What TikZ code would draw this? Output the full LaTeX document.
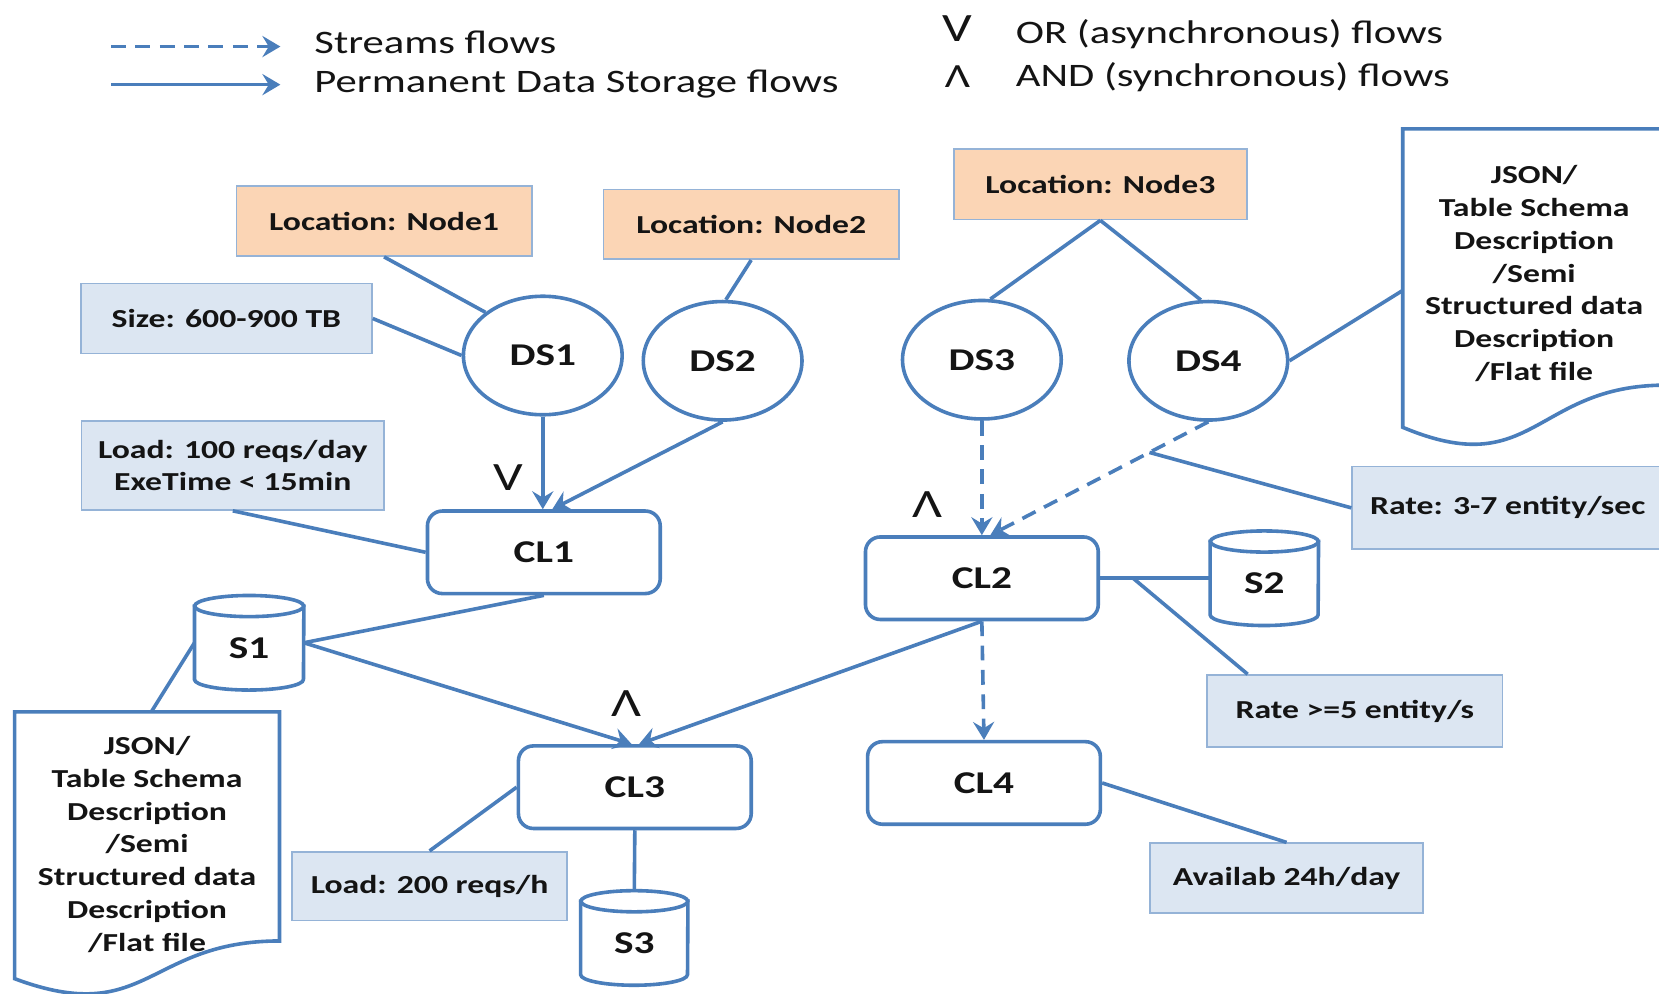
\documentclass[tikz,border=0pt]{standalone}
\usepackage{fontspec}
\setmainfont{Carlito}[FakeStretch=1.3]
\usetikzlibrary{arrows.meta,calc,shapes.geometric}
\definecolor{lineblue}{HTML}{4A7EBB}
\definecolor{boxfill}{HTML}{DCE6F2}
\definecolor{boxedge}{HTML}{95B3D7}
\definecolor{peach}{HTML}{FBD5B5}
\pgfdeclarelayer{bg}
\pgfsetlayers{bg,main}

% storage cylinder drawn round a rectangular node: name, x radius
\newcommand{\drawcyl}[2]{%
  \draw[conn, fill=white] ([yshift=-10pt]#1.north west) -- ([yshift=10pt]#1.south west)
    arc[start angle=180, end angle=360, x radius=#2pt, y radius=10pt]
    -- ([yshift=-10pt]#1.north east) -- cycle;
  \draw[conn, fill=white] ([yshift=-10pt]#1.north) ellipse[x radius=#2pt, y radius=10pt];
}
% document outline with a wavy bottom: name, full height
\newcommand{\drawdoc}[2]{%
  \draw[conn, fill=white] (#1.north west) -- (#1.north east)
    -- ([yshift=-0.802*#2pt]#1.north east)
    .. controls ([yshift=-0.802*#2pt]#1.north) and ([yshift=-1.107*#2pt]#1.north)
    .. ([yshift=-0.934*#2pt]#1.north west) -- cycle;
}

\begin{document}
\begin{tikzpicture}[x=1pt,y=-1pt,
  every node/.style={text=black!92},
  lbl/.style={font=\fontsize{24.5}{31}\selectfont\bfseries},
  big/.style={font=\fontsize{30}{36}\selectfont\bfseries},
  legendtext/.style={font=\fontsize{31}{36}\selectfont, inner sep=0pt, anchor=west},
  gate/.style={font=\fontsize{38}{40}\selectfont, inner sep=0pt},
  conn/.style={draw=lineblue, line width=3.4pt},
  flow/.style={conn, -{Stealth[length=17pt,width=20pt,inset=6pt]}},
  stream/.style={flow, dash pattern=on 14pt off 9pt},
  infobox/.style={lbl, draw=boxedge, line width=1.6pt, fill=boxfill, inner sep=0pt, align=center},
  locbox/.style={lbl, draw=boxedge, line width=1.6pt, fill=peach, inner sep=0pt,
    minimum width=279pt, minimum height=66pt},
  dsnode/.style={big, ellipse, conn, fill=white, minimum width=150pt, minimum height=112pt},
  clnode/.style={big, rectangle, rounded corners=14pt, conn, fill=white,
    minimum width=220pt, minimum height=78pt},
  cylbox/.style={big, rectangle, inner sep=0pt, minimum height=89pt,
    text height=29pt, text depth=0pt},
  docbox/.style={lbl, rectangle, inner sep=0pt, align=center}
]
\begin{pgfonlayer}{bg}
  \fill[white] (0,0) rectangle (1568,939);
\end{pgfonlayer}
\useasboundingbox (0,0) rectangle (1568,939);

% ---- legend ----
\coordinate (sA) at (105,44); \coordinate (sB) at (265,44);
\coordinate (pA) at (105,80); \coordinate (pB) at (265,80);
\draw[stream] (sA) -- (sB);
\draw[flow] (pA) -- (pB);
\node[legendtext] (lgS) at (297,40) {Streams flows};
\node[legendtext] (lgP) at (297,79) {Permanent Data Storage flows};
\node[gate] (lgOr) at (905,27) {V};
\node[legendtext] (lgOrT) at (960,32) {OR (asynchronous) flows};
\node[gate, font=\fontsize{32}{34}\selectfont] (lgAnd) at (905,72) {Λ};
\node[legendtext] (lgAndT) at (960,73) {AND (synchronous) flows};

% ---- location and property boxes ----
\node[locbox] (loc1) at (363,209) {Location: Node1};
\node[locbox] (loc2) at (710,212) {Location: Node2};
\node[locbox, minimum width=277pt, minimum height=67pt] (loc3) at (1040,174) {Location: Node3};

\node[infobox, minimum width=275pt, minimum height=66pt] (size) at (214,301) {Size: 600-900 TB};
\node[infobox, minimum width=286pt, minimum height=84pt] (load1) at (220,440) {Load: 100 reqs/day\\ExeTime < 15min};
\node[infobox, minimum width=294pt, minimum height=78pt] (rate37) at (1425,480) {Rate: 3-7 entity/sec};
\node[infobox, minimum width=279pt, minimum height=68pt] (rate5) at (1280.5,672) {Rate >=5 entity/s};
\node[infobox, minimum width=260pt, minimum height=65pt] (load2) at (406,837.5) {Load: 200 reqs/h};
\node[infobox, minimum width=258pt, minimum height=66pt] (avail) at (1216,830) {Availab 24h/day};

% ---- data sources ----
\node[dsnode] (ds1) at (513,336) {DS1};
\node[dsnode] (ds2) at (683,341) {DS2};
\node[dsnode] (ds3) at (928,340) {DS3};
\node[dsnode] (ds4) at (1142,341) {DS4};

% ---- clients ----
\node[clnode] (cl1) at (514,522) {CL1};
\node[clnode] (cl2) at (928,546.5) {CL2};
\node[clnode] (cl3) at (600,744) {CL3};
\node[clnode] (cl4) at (930,740) {CL4};

% ---- storages ----
\node[cylbox, minimum width=103pt] (s1) at (235.5,607.5) {S1};
\node[cylbox, minimum width=102pt] (s2) at (1195,546.5) {S2};
\node[cylbox, minimum width=101pt] (s3) at (599.5,886.5) {S3};
\begin{pgfonlayer}{bg}
  \drawcyl{s1}{51.5}
  \drawcyl{s2}{51}
  \drawcyl{s3}{50.5}
\end{pgfonlayer}

% ---- schema documents ----
\node[docbox, minimum width=250pt, minimum height=250pt] (doc1) at (139,798)
  {JSON/\\Table Schema\\Description\\/Semi\\Structured data\\Description\\/Flat file};
\node[docbox, minimum width=248pt, minimum height=273pt] (doc2) at (1450,258.5)
  {JSON/\\Table Schema\\Description\\/Semi\\Structured data\\Description\\/Flat file};
\begin{pgfonlayer}{bg}
  \drawdoc{doc1}{270}
  \drawdoc{doc2}{302}
\end{pgfonlayer}

% ---- plain links ----
\draw[conn] (loc1.south) -- (ds1.143);
\draw[conn] (size.east) -- (ds1.west);
\draw[conn] (loc2.south) -- (ds2.87);
\draw[conn] (loc3.south) -- (ds3.82);
\draw[conn] (loc3.south) -- (ds4.97);
\draw[conn] (ds4.east) -- ([yshift=-16pt]doc2.west);
\draw[conn] (load1.south) -- (cl1.west);
\draw[conn] (cl1.south) -- (s1.east);
\draw[conn] (s1.west) -- ([xshift=4pt]doc1.north);
\draw[conn] (cl3.west) -- (load2.north);
\draw[conn] (cl3.south) -- (s3.north);
\draw[conn] (cl2.east) -- (s2.west);
\coordinate (s2tap) at ($(cl2.east)!0.3!(s2.west)$);
\draw[conn] (s2tap) -- ([xshift=39pt]rate5.north west);
\draw[conn] (cl4.east) -- (avail.north);

% ---- data flows ----
\draw[flow] (ds1.south) -- (ds1.south |- cl1.north);
\draw[flow] (ds2.south) -- ([xshift=8pt]cl1.north);
\draw[flow] (s1.east) -- ([xshift=-3pt]cl3.north);
\draw[flow] (cl2.south) -- ([xshift=4pt]cl3.north);
\draw[stream] (ds3.south) -- (cl2.north);
\draw[stream] (ds4.south) -- ([xshift=8pt]cl2.north);
\path (ds4.south) -- ([xshift=8pt]cl2.north) coordinate[pos=0.27] (ratetap);
\draw[conn] (rate37.west) -- (ratetap);
\draw[stream] (cl2.south) -- (cl4.north);

% ---- gate marks ----
\node[gate] (orCL1) at (480,451) {V};
\node[gate] (andCL2) at (877,477) {Λ};
\node[gate] (andCL3) at (592,665) {Λ};
\end{tikzpicture}
\end{document}
